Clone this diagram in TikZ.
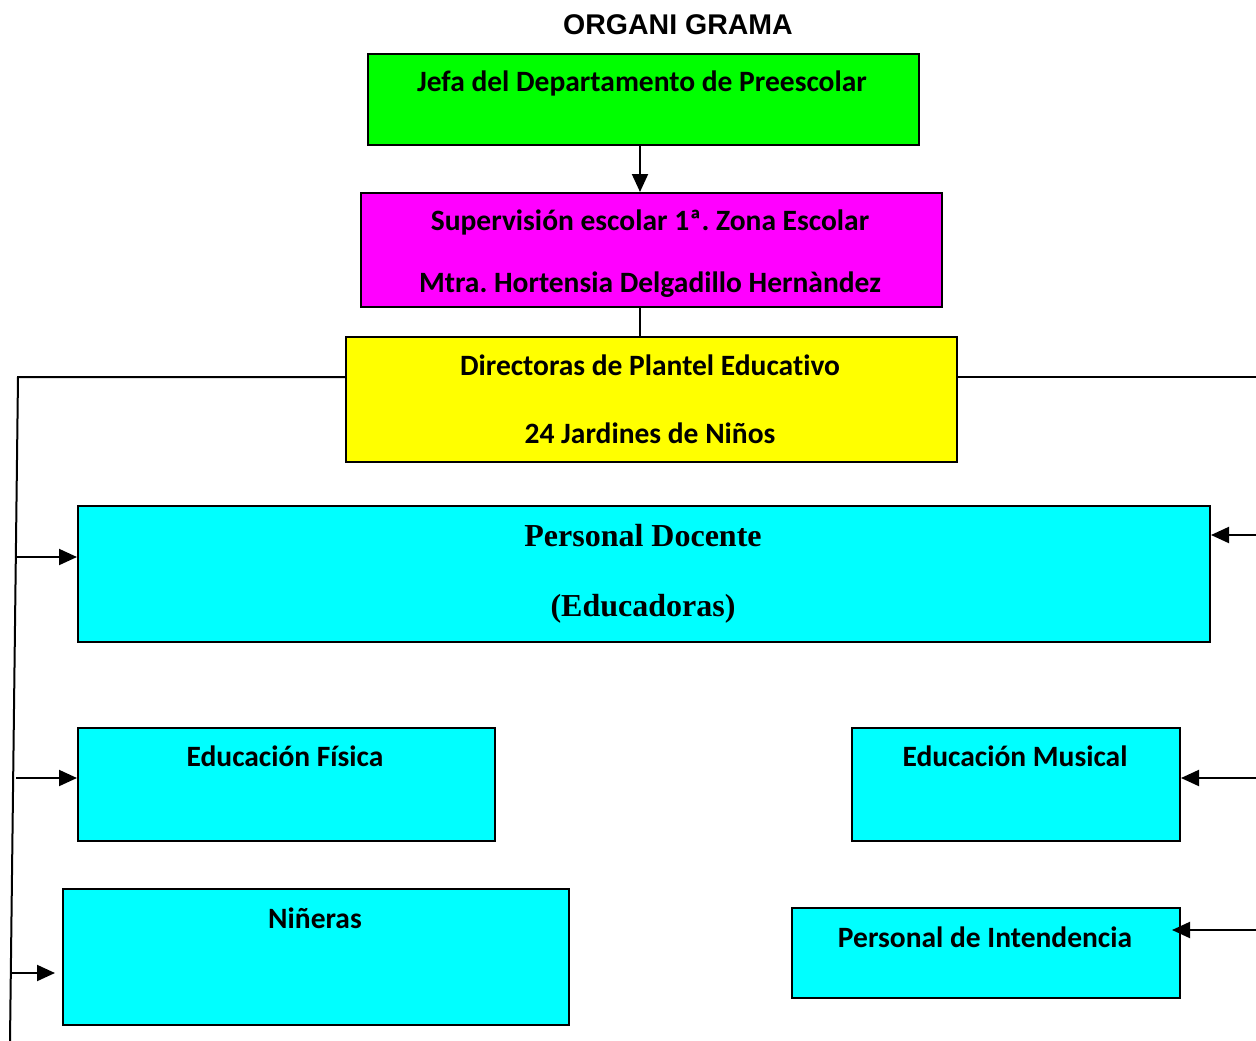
\documentclass[tikz,border=0pt]{standalone}
\usepackage{fontspec}
\setmainfont{Carlito}[Ligatures=NoCommon]
\newfontfamily\arialf{Liberation Sans}
\newfontfamily\timesf{Liberation Serif}
\usetikzlibrary{arrows.meta}
\frenchspacing
\definecolor{cgreen}{HTML}{00FF00}
\definecolor{cmag}{HTML}{FF00FF}
\definecolor{cyel}{HTML}{FFFF00}
\definecolor{ccyan}{HTML}{00FFFF}
\tikzset{
  box/.style={draw=black, line width=2pt, rectangle, anchor=north west, inner sep=0pt},
  lbl/.style={font=\fontsize{29.5}{32}\selectfont\bfseries, inner sep=0pt, anchor=center},
  big/.style={font=\fontsize{32}{36}\selectfont\timesf\bfseries, inner sep=0pt, anchor=center},
  conn/.style={draw=black, line width=2pt},
  arr/.style={conn, -{Triangle[length=18pt,width=16pt]}},
}
\begin{document}
\begin{tikzpicture}[x=1pt,y=-1pt]
\useasboundingbox (0,0) rectangle (1256,1041);
% title
\node[inner sep=0pt, font=\fontsize{28.5}{30}\selectfont\arialf\bfseries] (title) at (678,25) {ORGANI\kern8pt GRAMA};
% boxes
\node[box, fill=cgreen, minimum width=551pt, minimum height=91pt] (jefa) at (367,53) {};
\node[box, fill=cmag, minimum width=581pt, minimum height=114pt] (sup) at (360,192) {};
\node[box, fill=cyel, minimum width=611pt, minimum height=125pt] (dir) at (345,336) {};
\node[box, fill=ccyan, minimum width=1132pt, minimum height=136pt] (pd) at (77,505) {};
\node[box, fill=ccyan, minimum width=417pt, minimum height=113pt] (ef) at (77,727) {};
\node[box, fill=ccyan, minimum width=328pt, minimum height=113pt] (em) at (851,727) {};
\node[box, fill=ccyan, minimum width=506pt, minimum height=136pt] (nin) at (62,888) {};
\node[box, fill=ccyan, minimum width=388pt, minimum height=90pt] (pi) at (791,907) {};
% labels
\node[lbl] (tjefa) at (642,83) {Jefa del Departamento de Preescolar};
\node[lbl] (tsup1) at (650,222) {Supervisión escolar 1ª. Zona Escolar};
\node[lbl] (tsup2) at (650,285) {Mtra. Hortensia Delgadillo Hernàndez};
\node[lbl] (tdir1) at (650,365) {Directoras de Plantel Educativo};
\node[lbl] (tdir2) at (650,433) {24 Jardines de Niños};
\node[big] (tpd1) at (643,536) {Personal Docente};
\node[big] (tpd2) at (643,609) {(Educadoras)};
\node[lbl] (tef) at (285,756) {Educación Física};
\node[lbl] (tem) at (1015,756) {Educación Musical};
\node[lbl] (tnin) at (315,918) {Niñeras};
\node[lbl] (tpi) at (985,937) {Personal de Intendencia};
% coordinates
\coordinate (vx) at (640,0);
\coordinate (Ltop) at (18,377);
\coordinate (Lbot) at (10,1041);
\coordinate (Rtop) at (1256,377);
\coordinate (La) at (17.3,557);
\coordinate (Lb) at (16.3,778);
\coordinate (Lc) at (10,973);
\coordinate (Ra) at (1256,535);
\coordinate (Rb) at (1256,778);
\coordinate (Rc) at (1256,930);
\coordinate (nintip) at (55,973);
\coordinate (pitip) at (1172,930);
% connectors
\draw[arr] (vx |- jefa.south) -- (vx |- sup.north);
\draw[conn] (vx |- sup.south) -- (vx |- dir.north);
\draw[conn] (dir.west |- Ltop) -- (Ltop) -- (Lbot);
\draw[conn] (dir.east |- Rtop) -- (Rtop);
\draw[arr] (La) -- (La -| pd.west);
\draw[arr] (Lb) -- (Lb -| ef.west);
\draw[arr] (Lc) -- (nintip);
\draw[arr] (Ra) -- (Ra -| pd.east);
\draw[arr] (Rb) -- (Rb -| em.east);
\draw[arr] (Rc) -- (pitip);
\end{tikzpicture}
\end{document}
